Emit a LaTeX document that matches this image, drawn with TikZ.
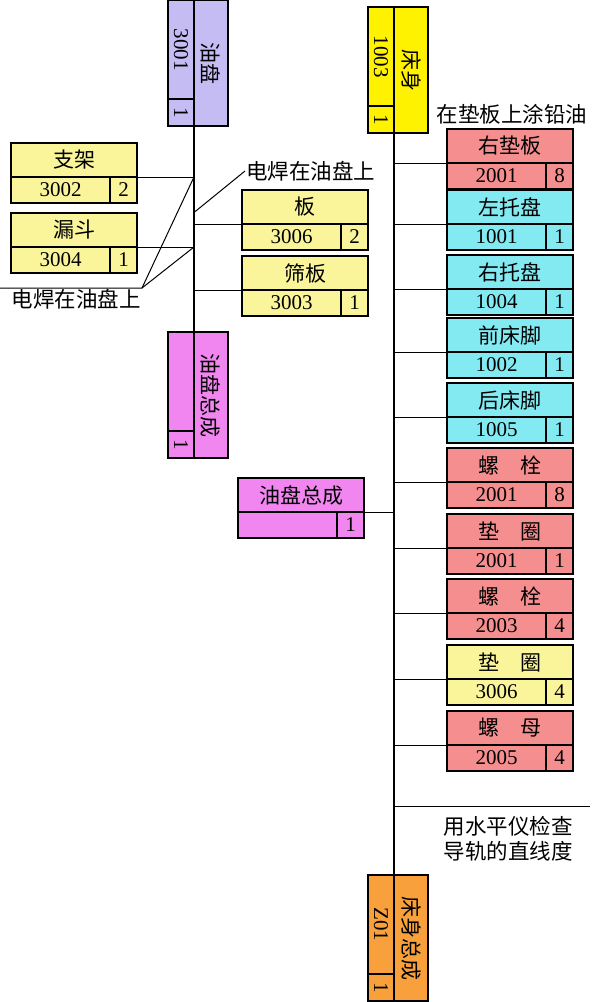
\documentclass[tikz,border=0pt]{standalone}
\usepackage{fontspec}
\setmainfont{Liberation Serif}
\newfontfamily\cjk{Noto Sans CJK SC}
\usepackage{tikz}
\usetikzlibrary{calc}
\definecolor{asmlilac}{HTML}{C6BCF4}
\definecolor{asmpale}{HTML}{FAF59A}
\definecolor{asmyellow}{HTML}{FFF200}
\definecolor{asmred}{HTML}{F58E8E}
\definecolor{asmcyan}{HTML}{84EAF2}
\definecolor{asmpink}{HTML}{F286F0}
\definecolor{asmorange}{HTML}{F7A03C}
\tikzset{
  card/.style={draw=black, line width=1.9pt, minimum width=126pt, minimum height=60pt, inner sep=0pt, outer sep=0pt},
  cardrule/.style={line width=1.2pt},
  cardname/.style={font=\cjk\fontsize{21}{25}\selectfont, inner sep=0pt},
  cardnum/.style={font=\fontsize{21}{25}\selectfont, inner sep=0pt},
  trunk/.style={line width=1.3pt},
  tie/.style={line width=1pt},
  tnote/.style={font=\cjk\fontsize{21.5}{24.5}\selectfont, inner sep=1pt, align=center},
}
% part card: name, centre, angle, fill, title, number, quantity
\newcommand{\partcard}[7]{%
  \node[card, fill=#4, rotate=#3] (#1) at (#2) {};
  \coordinate (#1l) at ($(#1.north west)!.567!(#1.south west)$);
  \coordinate (#1r) at ($(#1.north east)!.567!(#1.south east)$);
  \coordinate (#1q) at ($(#1r)!.214!(#1l)$);
  \coordinate (#1p) at ($(#1.south east)!.214!(#1.south west)$);
  \draw[cardrule] (#1l) -- (#1r) (#1q) -- (#1p);
  \node[cardname, rotate=#3] (#1t) at ($(#1.north)!.2835!(#1.south)$) {#5};
  \node[cardnum, rotate=#3] (#1n) at ($(#1l)!.5!(#1p)$) {#6};
  \node[cardnum, rotate=#3] (#1c) at ($(#1q)!.5!(#1.south east)$) {#7};
}

\begin{document}
\begin{tikzpicture}[x=1pt, y=-1pt]
  \useasboundingbox (0,0) rectangle (593,1002);
  % oil pan
  \partcard{yp}{198,63}{-90}{asmlilac}{油盘}{3001}{1}
  \partcard{zj}{74,173}{0}{asmpale}{支架}{3002}{2}
  \partcard{ld}{74,243}{0}{asmpale}{漏斗}{3004}{1}
  \partcard{ban}{305,220}{0}{asmpale}{板}{3006}{2}
  \partcard{sb}{305,286}{0}{asmpale}{筛板}{3003}{1}
  \partcard{ypzc}{198,395}{-90}{asmpink}{油盘总成}{}{1}
  \draw[trunk] (ypr) -- (ypzcl);
  \draw[tie] (zjr) -- (zjr -| ypr);
  \draw[tie] (ldr) -- (ldr -| ypr);
  \draw[tie] (banl) -- (banl -| ypr);
  \draw[tie] (sbl) -- (sbl -| ypr);
  \node[tnote, anchor=north east] (wd1) at (142,288) {电焊在油盘上};
  \coordinate (weldL) at (0,288);
  \draw[tie] (weldL) -- (wd1.north east) -- (zjr -| ypr);
  \draw[tie] (wd1.north east) -- (ldr -| ypr);
  \node[tnote, anchor=west] (wd2) at (245,171) {电焊在油盘上};
  \coordinate (weldR) at ($(ypr)!.42!(ypzcl)$);
  \draw[tie] (weldR) -- (wd2.west);
  % bed
  \partcard{cs}{398,70}{-90}{asmyellow}{床身}{1003}{1}
  \partcard{csz}{398,938}{-90}{asmorange}{床身总成}{Z01}{1}
  \draw[trunk] (csr) -- (cszl);
  \node[tnote] (tu) at (512,114) {在垫板上涂铅油};
  \partcard{ydb}{510,159}{0}{asmred}{右垫板}{2001}{8}
  \partcard{ztp}{510,220}{0}{asmcyan}{左托盘}{1001}{1}
  \partcard{ytp}{510,285}{0}{asmcyan}{右托盘}{1004}{1}
  \partcard{qcj}{510,348}{0}{asmcyan}{前床脚}{1002}{1}
  \partcard{hcj}{510,413}{0}{asmcyan}{后床脚}{1005}{1}
  \partcard{lsa}{510,478}{0}{asmred}{螺　栓}{2001}{8}
  \partcard{dqa}{510,544}{0}{asmred}{垫　圈}{2001}{1}
  \partcard{lsb}{510,609}{0}{asmred}{螺　栓}{2003}{4}
  \partcard{dqb}{510,675}{0}{asmpale}{垫　圈}{3006}{4}
  \partcard{lm}{510,741}{0}{asmred}{螺　母}{2005}{4}
  \partcard{ypzcb}{301,508}{0}{asmpink}{油盘总成}{}{1}
  \draw[tie] (ydbl) -- (ydbl -| csr);
  \draw[tie] (ztpl) -- (ztpl -| csr);
  \draw[tie] (ytpl) -- (ytpl -| csr);
  \draw[tie] (qcjl) -- (qcjl -| csr);
  \draw[tie] (hcjl) -- (hcjl -| csr);
  \draw[tie] (lsal) -- (lsal -| csr);
  \draw[tie] (dqal) -- (dqal -| csr);
  \draw[tie] (lsbl) -- (lsbl -| csr);
  \draw[tie] (dqbl) -- (dqbl -| csr);
  \draw[tie] (lml) -- (lml -| csr);
  \draw[tie] (ypzcbr) -- (ypzcbr -| csr);
  \coordinate (levelend) at (590,806);
  \draw[tie] (levelend -| csr) -- (levelend);
  \node[tnote] (sp) at (508,839) {用水平仪检查\\导轨的直线度};
\end{tikzpicture}
\end{document}
